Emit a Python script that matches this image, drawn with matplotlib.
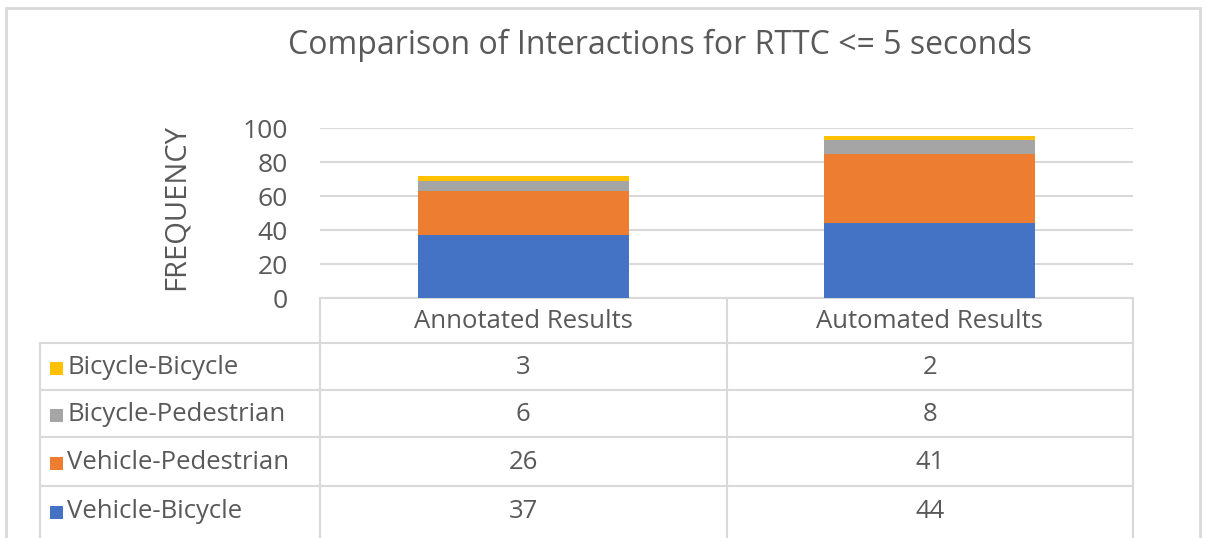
import matplotlib
matplotlib.use("Agg")
import matplotlib.pyplot as plt
from matplotlib.patches import Rectangle
from matplotlib.lines import Line2D
import numpy as np

categories = ["Annotated Results", "Automated Results"]
series_names = ["Vehicle-Bicycle", "Vehicle-Pedestrian", "Bicycle-Pedestrian", "Bicycle-Bicycle"]
vehicle_bicycle = [37, 44]
vehicle_pedestrian = [26, 41]
bicycle_pedestrian = [6, 8]
bicycle_bicycle = [3, 2]
series_values = [vehicle_bicycle, vehicle_pedestrian, bicycle_pedestrian, bicycle_bicycle]
colors = ["#4472C4", "#ED7D31", "#A5A5A5", "#FFC000"]
yticks = [0, 20, 40, 60, 80, 100]
title = "Comparison of Interactions for RTTC <= 5 seconds"

plt.rcParams['font.family'] = ['Open Sans', 'DejaVu Sans']
TXT = "#595959"
GRID = "#D9D9D9"

W, H = 1205, 538
fig = plt.figure(figsize=(W / 100, H / 100), dpi=100)

def fx(px):
    return px / W

def fy(py):
    return 1 - py / H

ax_left, ax_right, ax_top, ax_bot = 320, 1133, 128, 298
ax = fig.add_axes([fx(ax_left), fy(ax_bot), fx(ax_right) - fx(ax_left), fy(ax_top) - fy(ax_bot)])

x = np.arange(len(categories))
bottom = np.zeros(len(categories))
for vals, col, name in zip(series_values, colors, series_names):
    ax.bar(x, vals, width=0.52, bottom=bottom, color=col, label=name, zorder=3)
    bottom += np.array(vals)

ax.set_xlim(-0.5, len(categories) - 0.5)
ax.set_ylim(0, 100)
ax.set_yticks(yticks)
ax.set_yticklabels([str(t) for t in yticks], fontsize=19, color=TXT)
ax.tick_params(axis='y', length=0, pad=23)
ax.set_xticks([])
for s in ["top", "right", "left"]:
    ax.spines[s].set_visible(False)
ax.spines["bottom"].set_color(GRID)
ax.spines["bottom"].set_linewidth(1.5)
ax.grid(axis='y', color=GRID, linewidth=1.5, zorder=0)

fig.text(fx(176), fy(207), "FREQUENCY", rotation=90, ha='center', va='center',
         fontsize=21, color=TXT)

fig.text(fx(660), fy(45), title, ha='center', va='center', fontsize=23, color=TXT)

# outer border
fig.add_artist(Rectangle((fx(6), fy(560)), fx(1200) - fx(6), fy(8) - fy(560),
                         transform=fig.transFigure, fill=False, edgecolor="#D9D9D9", linewidth=2))

# data table
row_bounds = [343, 390, 437, 486, 535]
col_bounds = [ax_left, (ax_left + ax_right) / 2, ax_right]

def line(x0, y0, x1, y1):
    fig.add_artist(Line2D([fx(x0), fx(x1)], [fy(y0), fy(y1)], transform=fig.transFigure,
                          color=GRID, linewidth=1.5))

for cx in col_bounds:
    line(cx, ax_bot, cx, 538)
line(40, row_bounds[0], 40, 538)
for ry in row_bounds[:-1]:
    line(40, ry, ax_right, ry)

TS = 18.5
for i, cat in enumerate(categories):
    cxm = (col_bounds[i] + col_bounds[i + 1]) / 2
    fig.text(fx(cxm), fy((ax_bot + row_bounds[0]) / 2 + 1), cat, ha='center', va='center',
             fontsize=TS, color=TXT)

order = list(range(len(series_names)))[::-1]
for r, si in enumerate(order):
    ymid = (row_bounds[r] + row_bounds[r + 1]) / 2 + 1
    fig.add_artist(Rectangle((fx(50), fy(ymid + 7)), fx(13), fy(ymid - 6) - fy(ymid + 7),
                             transform=fig.transFigure, color=colors[si], linewidth=0))
    fig.text(fx(67), fy(ymid), series_names[si], ha='left', va='center', fontsize=TS, color=TXT)
    for i in range(len(categories)):
        cxm = (col_bounds[i] + col_bounds[i + 1]) / 2
        fig.text(fx(cxm), fy(ymid), str(series_values[si][i]), ha='center', va='center',
                 fontsize=TS, color=TXT)

fig.savefig("out.png", dpi=100, facecolor="white")
